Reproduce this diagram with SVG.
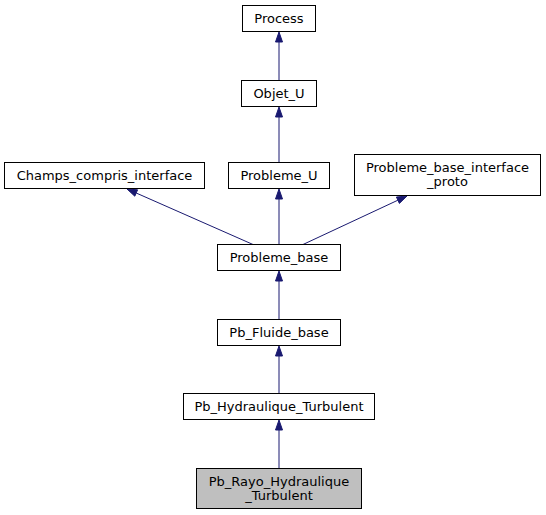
<svg xmlns="http://www.w3.org/2000/svg" width="546" height="515" viewBox="0 0 546 515">
<style>
.n rect{fill:#ffffff;stroke:#000000;stroke-width:1}
.n.cur rect{fill:#bfbfbf}
.n text{font-family:"DejaVu Sans",sans-serif;font-size:13px;text-anchor:middle;fill:#000000}
.e line{stroke:#191970;stroke-width:1}
.e polygon{fill:#191970;stroke:#191970;stroke-width:1}
</style>
<rect width="546" height="515" fill="#ffffff"/>
<g id="edges" class="e">
<line x1="279" y1="80.5" x2="279" y2="42"/>
<polygon points="279,32 275.5,42 282.5,42"/>
<line x1="279" y1="162.5" x2="279" y2="117"/>
<polygon points="279,107 275.5,117 282.5,117"/>
<line x1="279" y1="244.5" x2="279" y2="199"/>
<polygon points="279,189 275.5,199 282.5,199"/>
<line x1="253" y1="244.5" x2="136.2" y2="193"/>
<polygon points="127,189 137.6,189.8 134.8,196.2"/>
<line x1="303" y1="244.5" x2="397.9" y2="200.2"/>
<polygon points="407,196 399.4,203.4 396.4,197"/>
<line x1="279" y1="319.5" x2="279" y2="281"/>
<polygon points="279,271 275.5,281 282.5,281"/>
<line x1="279" y1="393.5" x2="279" y2="356"/>
<polygon points="279,346 275.5,356 282.5,356"/>
<line x1="279" y1="468.5" x2="279" y2="430"/>
<polygon points="279,420 275.5,430 282.5,430"/>
</g>
<g id="Process" class="n"><rect x="242.5" y="5.5" width="73" height="26"/><text x="279" y="23">Process</text></g>
<g id="Objet_U" class="n"><rect x="241.5" y="80.5" width="75" height="26"/><text x="279" y="98">Objet_U</text></g>
<g id="Champs_compris_interface" class="n"><rect x="4.5" y="162.5" width="200" height="26"/><text x="104.5" y="180">Champs_compris_interface</text></g>
<g id="Probleme_U" class="n"><rect x="228.5" y="162.5" width="101" height="26"/><text x="279" y="180">Probleme_U</text></g>
<g id="Probleme_base_interface_proto" class="n"><rect x="354.5" y="154.5" width="186" height="41"/><text x="447.5" y="172">Probleme_base_interface</text><text x="447.5" y="186">_proto</text></g>
<g id="Probleme_base" class="n"><rect x="217.5" y="244.5" width="123" height="26"/><text x="279" y="262">Probleme_base</text></g>
<g id="Pb_Fluide_base" class="n"><rect x="217.5" y="319.5" width="123" height="26"/><text x="279" y="337">Pb_Fluide_base</text></g>
<g id="Pb_Hydraulique_Turbulent" class="n"><rect x="183.5" y="393.5" width="191" height="26"/><text x="279" y="411">Pb_Hydraulique_Turbulent</text></g>
<g id="Pb_Rayo_Hydraulique_Turbulent" class="n cur"><rect x="196.5" y="468.5" width="165" height="40"/><text x="279" y="486">Pb_Rayo_Hydraulique</text><text x="279" y="500">_Turbulent</text></g>
</svg>
